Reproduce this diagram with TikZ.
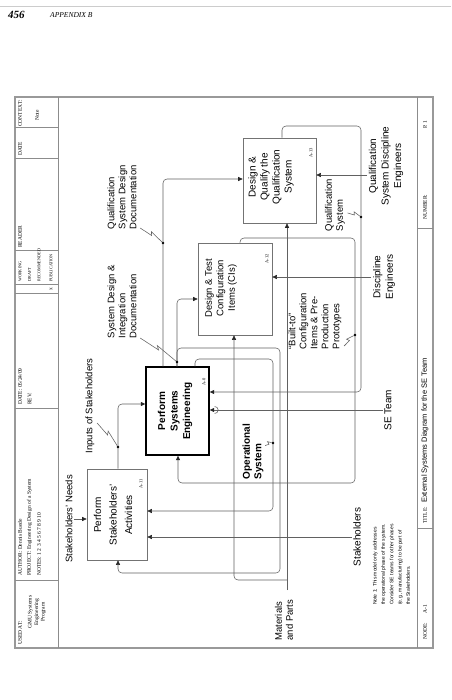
\documentclass[tikz,border=0pt]{standalone}
\usepackage{fontspec}
\setmainfont{Liberation Serif}
\setsansfont{Liberation Sans}
\usetikzlibrary{arrows.meta,positioning,calc}

% squiggle from a label to the dot on its arrow
\newcommand{\squig}[2]{\draw[line] (#1) -- ($(#1)!.5!(#2)$) -- ($(#1)!.42!(#2)!3pt!90:(#2)$) -- (#2);}

\begin{document}
\begin{tikzpicture}[x=1pt,y=-1pt,
 line/.style={draw=black!62,line width=.55pt},
 arr/.style={line,-{Triangle[length=4.5pt,width=4pt,color=black!85]},rounded corners=4pt},
 frame/.style={draw=black!40,line width=1.2pt},
 hline/.style={draw=black!45,line width=.5pt},
 fbox/.style={draw=black!55,line width=.6pt,inner sep=0pt},
 boxtxt/.style={rotate=90,align=center,font=\sffamily\fontsize{10}{12}\selectfont},
 lab/.style={rotate=90,align=center,inner sep=1.5pt,font=\sffamily\fontsize{9.5}{11}\selectfont},
 labl/.style={lab,align=left,anchor=west},
 mech/.style={lab,font=\sffamily\fontsize{10}{12.5}\selectfont},
 numlab/.style={rotate=90,inner sep=0pt,font=\fontsize{4.5}{5}\selectfont},
 hdr/.style={rotate=90,anchor=west,inner sep=0pt,font=\fontsize{5.5}{6.5}\selectfont},
 dot/.style={circle,fill=black,inner sep=0pt,minimum size=2.6pt}]
\fill[white] (0,0) rectangle (451,700);
\useasboundingbox (0,0) rectangle (451,700);

% page head
\draw[black!20,line width=.8pt] (0,6) -- (451,6);
\node[anchor=west,inner sep=0pt,font=\bfseries\itshape\fontsize{11}{12}\selectfont] (pg) at (8,15) {456};
\node[anchor=west,inner sep=0pt,font=\itshape\fontsize{7.5}{9}\selectfont] (app) at (50,15) {APPENDIX B};

% form
\draw[frame] (15,97) rectangle (433,648);
\draw[hline] (58,97) -- (58,648) (417,97) -- (417,648);
\foreach \y in {127,158,250,284,293,408,580}
  \draw[hline] (15,\y) -- (58,\y);
\foreach \y in {228,528}
  \draw[hline] (417,\y) -- (433,\y);

\node[hdr] (used) at (20,645) {USED AT:};
\node[hdr,anchor=center,align=center] (gmu) at (37,612) {GMU Systems\\Engineering\\Program};
\node[hdr] (auth) at (20,576) {AUTHOR: Dennis Buede};
\node[hdr] (proj) at (29.5,576) {PROJECT: Engineering Design of a System};
\node[hdr] (notes) at (39,576) {NOTES: 1 2 3 4 5 6 7 8 9 10};
\node[hdr] (date1) at (20,405) {DATE: 05/24/09};
\node[hdr] (rev) at (29.5,405) {REV:};
\node[hdr,font=\fontsize{4.2}{5}\selectfont] (work) at (20,282) {WORKING};
\node[hdr,font=\fontsize{4.2}{5}\selectfont] (draft) at (29.5,282) {DRAFT};
\node[hdr,font=\fontsize{4.2}{5}\selectfont] (recom) at (39,282) {RECOMMENDED};
\node[hdr,font=\fontsize{4.2}{5}\selectfont] (publ) at (51,282) {PUBLICATION};
\node[hdr,anchor=center] (mark) at (51,289) {x};
\node[hdr] (reader) at (20,248) {READER};
\node[hdr] (date2) at (20,156) {DATE};
\node[hdr] (ctx) at (20,127) {CONTEXT:};
\node[hdr] (ctxn) at (37,121) {Note};

\node[hdr] (ndl) at (425,640) {NODE:\hspace{10pt}A-1};
\node[hdr] (ttl) at (425,524) {TITLE:};
\node[hdr,font=\sffamily\fontsize{7.5}{9}\selectfont] (ttx) at (425,503) {External Systems Diagram for the SE Team};
\node[hdr] (nbl) at (425,220) {NUMBER:};
\node[hdr] (pgl) at (425,129) {P. 1};
\node[hdr,align=left,font=\sffamily\fontsize{5}{8.3}\selectfont] (note) at (391.5,605) {Note 1: This model only addresses\\the operational phase of the system.\\Consider SE teams for other phases\\(e.g., manufacturing) to be part of\\the Stakeholders.};

% activity boxes
\node[fbox,minimum width=60pt,minimum height=91pt] (a11) at (117,514.5) {};
\node[fbox,draw=black,line width=1.4pt,minimum width=63pt,minimum height=88pt] (a0) at (177.5,411) {};
\node[fbox,minimum width=74pt,minimum height=92pt] (a12) at (235,289) {};
\node[fbox,minimum width=73pt,minimum height=85pt] (a13) at (279.5,180.5) {};

\node[boxtxt,font=\sffamily\fontsize{10}{15.5}\selectfont] (a11t) at (113,515) {Perform\\Stakeholders'\\Activities};
\node[boxtxt,font=\sffamily\bfseries\fontsize{10}{12.5}\selectfont] (a0t) at (175,411) {Perform\\Systems\\Engineering};
\node[boxtxt,font=\sffamily\fontsize{9.5}{11.5}\selectfont] (a12t) at (221,288) {Design \& Test\\Configuration\\Items (CIs)};
\node[boxtxt] (a13t) at (271,177) {Design \&\\Qualify the\\Qualification\\System};

\node[numlab] (a11n) at (141,484) {A-11};
\node[numlab] (a0n) at (204,382) {A-0};
\node[numlab] (a12n) at (267,259) {A-12};
\node[numlab] (a13n) at (311,153) {A-13};

% labels
\node[lab] (needs) at (69,519) {Stakeholders' Needs};
\node[lab] (insth) at (90,406) {Inputs of Stakeholders};
\node[labl] (qsddl) at (122,231) {Qualification\\System Design\\Documentation};
\node[labl] (sdidl) at (122,340) {System Design \&\\Integration\\Documentation};
\node[labl,font=\sffamily\bfseries\fontsize{10}{11.5}\selectfont] (opsl) at (253,481) {Operational\\System};
\node[labl] (btl) at (315,351) {``Built-to''\\Configuration\\Items \& Pre-\\Production\\Prototypes};
\node[labl] (qsl) at (335,233) {Qualification\\System};
\node[labl] (mpl) at (284,642) {Materials\\and Parts};
\node[mech] (qsdel) at (386,166) {Qualification\\System Discipline\\Engineers};
\node[mech] (del) at (384,277) {Discipline\\Engineers};
\node[mech] (sel) at (388,410) {SE Team};
\node[mech] (stkl) at (357,537) {Stakeholders};

% controls
\draw[arr] (needs.south) -- (needs.south -| a11.west);
\coordinate (ins) at (118,404);
\draw[arr] (a11.north -| ins) |- (a0.west |- ins);
\node[dot] (dins) at (118,447) {};
\coordinate (sins) at ($(insth.south)+(1,17)$);
\squig{sins}{dins}

\coordinate (qsdd) at (163,179);
\draw[arr] (a0.north -| qsdd) |- (a13.west |- qsdd);
\node[dot] (dqsdd) at (163,243) {};
\coordinate (sqsdd) at ($(qsddl.south west)+(2,-3)$);
\squig{sqsdd}{dqsdd}

\coordinate (sdid) at (177,299);
\draw[arr] (a0.north -| sdid) |- (a12.west |- sdid);
\coordinate (fbk) at (280,348);
\coordinate (fbk2) at (280,573);
\draw[arr] (a0.north -| sdid) |- (fbk) -- (fbk2) -| (a11.south -| ins);
\node[dot] (dsdid) at (177,362) {};
\coordinate (ssdid) at ($(sdidl.south west)+(2,-2)$);
\squig{ssdid}{dsdid}

% outputs fed back
\coordinate (ops) at (195,359);
\coordinate (ops2) at (273,511);
\draw[arr] (a0.north -| ops) -- (ops) -| (ops2) -- (ops2 -| a11.east);
\node[dot] (dops) at (273,443) {};
\coordinate (sops) at ($(opsl.south)+(0,-6)$);
\squig{sops}{dops}

\coordinate (bt) at (240,238);
\coordinate (bt2) at (355,483);
\coordinate (bti) at (178,483);
\draw[arr] (a12.north -| bt) -- (bt) -| (bt2) -- (bti) -- (bti |- a0.south);
\node[dot] (dbt) at (355,335) {};
\coordinate (sbt) at ($(btl.south west)+(1,-5)$);
\squig{sbt}{dbt}

\coordinate (qs) at (282,126);
\coordinate (qs2) at (361,392);
\draw[arr] (a13.north -| qs) -- (qs) -| (qs2) -- (qs2 -| a0.east);
\node[dot] (dqs) at (361,217) {};
\coordinate (sqs) at ($(qsl.south west)+(1,-20)$);
\squig{sqs}{dqs}

% inputs
\coordinate (mp) at (287,590);
\coordinate (mpb) at (287,580);
\coordinate (mpi) at (234,580);
\draw[arr] (mp) -- (mp |- a13.south);
\draw[arr] (mpb) -- (mpi) -- (mpi |- a12.south);

% mechanisms
\draw[arr] (stkl.north) -- (stkl.north -| a11.east);
\draw[arr] (sel.north) -- (sel.north -| a0.east);
\coordinate (tun) at ($(a0.east |- sel.north)+(5,0)$);
\draw[line] ([yshift=3.5pt]tun) arc[start angle=90,end angle=-90,radius=3.5pt];
\draw[arr] (del.north) -- (del.north -| a12.east);
\coordinate (qsdei) at ([yshift=-9pt]qsdel.north);
\draw[arr] (qsdei) -- (qsdei -| a13.east);
\end{tikzpicture}
\end{document}
